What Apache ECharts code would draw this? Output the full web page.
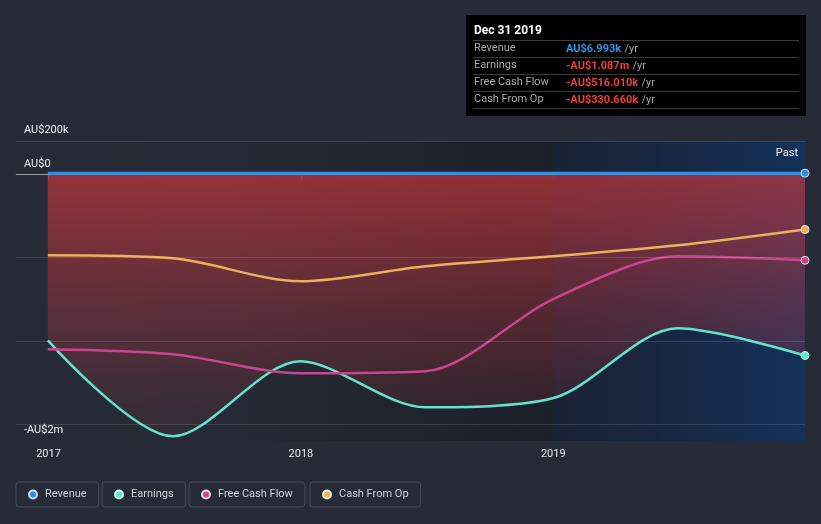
<!DOCTYPE html>
<html><head><meta charset="utf-8">
<script src="https://cdn.jsdelivr.net/npm/echarts@6/dist/echarts.min.js"></script>
<style>html,body{margin:0;padding:0;background:#262b37;}#c{width:821px;height:524px;}</style>
</head><body><div id="c"></div>
<script>
const dates = ['2016-12-31','2017-06-30','2017-12-31','2018-06-30','2018-12-31','2019-06-30','2019-12-31'];
const revenue = [6100, 6300, 7200, 6500, 6900, 7000, 6993];
const earnings = [-996000, -1572000, -1122000, -1398000, -1344000, -924000, -1087000];
const freeCashFlow = [-1050000, -1080000, -1194000, -1182000, -750000, -492000, -516010];
const cashFromOp = [-486000, -504000, -642000, -552000, -492000, -426000, -330660];
const yTicks = [{v: 200000, t: 'AU$200k', pos: 'insideStartTop', d: 5}, {v: 0, t: 'AU$0', pos: 'insideStartTop', d: 5}, {v: -500000, t: ''}, {v: -1000000, t: ''}, {v: -1500000, t: '-AU$2m', pos: 'insideStartBottom', d: 0}];
const names = ['Revenue', 'Earnings', 'Free Cash Flow', 'Cash From Op'];
const colors = ['#2d8fe3', '#62e3cd', '#c8468b', '#e8b15c'];
const pastStart = '2019-01-01';
const pastLabel = 'Past';
const xMin = '2016-11-15';
const xMax = '2019-12-31';

const seriesData = [revenue, earnings, freeCashFlow, cashFromOp];

function fmt(v) {
  const a = Math.abs(v);
  const s = v < 0 ? '-' : '';
  if (a >= 1e6) return s + 'AU$' + (a / 1e6).toFixed(3) + 'm';
  return s + 'AU$' + (a / 1e3).toFixed(3) + 'k';
}
function fmtDate(d) {
  const m = ['Jan','Feb','Mar','Apr','May','Jun','Jul','Aug','Sep','Oct','Nov','Dec'];
  const p = d.split('-');
  return m[+p[1] - 1] + ' ' + (+p[2]) + ' ' + p[0];
}
function toData(arr) {
  return arr.map((v, i) => i === arr.length - 1
    ? {value: [dates[i], v], symbol: 'circle', symbolSize: 8}
    : {value: [dates[i], v], symbol: 'none'});
}

const chart = echarts.init(document.getElementById('c'), null, {renderer: 'canvas'});

const SMOOTH = 0.3;
const series = [];
series.push({
  type: 'line', data: [], z: 1, silent: true,
  markArea: {
    silent: true,
    data: [
      [{xAxis: xMin, yAxis: 200000, label: {show: false}, itemStyle: {color: new echarts.graphic.LinearGradient(0, 0, 1, 0, [
          {offset: 0, color: 'rgba(0,0,0,0)'}, {offset: 0.4, color: 'rgba(0,0,0,0.02)'}, {offset: 1, color: 'rgba(8,10,14,0.32)'}])}},
       {xAxis: pastStart, yAxis: -1600000}],
      [{xAxis: pastStart, yAxis: 200000, name: pastLabel,
        label: {show: true, formatter: pastLabel, position: 'insideTopRight', color: '#f0f2f5', fontSize: 11, fontFamily: 'Roboto', distance: 7},
        itemStyle: {color: new echarts.graphic.LinearGradient(0, 0, 1, 0, [
          {offset: 0, color: 'rgba(12,24,50,0.45)'}, {offset: 1, color: 'rgba(14,52,104,0.72)'}])}},
       {xAxis: xMax, yAxis: -1600000}]
    ]
  },
  markLine: {
    silent: true, symbol: 'none', animation: false,
    data: yTicks.map(t => ({yAxis: t.v,
      label: {show: !!t.t, formatter: t.t, position: t.pos || 'insideStartTop', distance: [8, t.d || 0]},
      lineStyle: {color: t.v === 0 ? 'rgba(255,255,255,0.45)' : 'rgba(255,255,255,0.13)', width: 1, type: 'solid'}})),
    label: {color: '#eef0f3', fontSize: 11, fontFamily: 'Roboto'}
  }
});
series.push({
  name: names[1], type: 'line', z: 3, data: toData(earnings), smooth: SMOOTH,
  lineStyle: {color: colors[1], width: 2.5}, itemStyle: {color: colors[1], borderColor: '#cfe', borderWidth: 1},
  areaStyle: {origin: 0, color: new echarts.graphic.LinearGradient(0, 0, 0, 1, [
    {offset: 0, color: 'rgba(212,56,62,0.9)'}, {offset: 0.5, color: 'rgba(212,56,62,0.45)'}, {offset: 1, color: 'rgba(212,56,62,0.08)'}])}
});
series.push({
  name: names[2], type: 'line', z: 4, data: toData(freeCashFlow), smooth: SMOOTH,
  lineStyle: {color: colors[2], width: 2.5}, itemStyle: {color: colors[2], borderColor: '#edd', borderWidth: 1}
});
series.push({
  name: names[3], type: 'line', z: 4, data: toData(cashFromOp), smooth: SMOOTH,
  lineStyle: {color: colors[3], width: 2.5}, itemStyle: {color: colors[3], borderColor: '#eed', borderWidth: 1}
});
series.push({
  name: names[0], type: 'line', z: 5, data: toData(revenue), smooth: SMOOTH,
  lineStyle: {color: colors[0], width: 3}, itemStyle: {color: colors[0], borderColor: '#cde', borderWidth: 1}
});

const legendLefts = [16, 102, 189, 310];
const legends = names.map((n, i) => ({
  data: [{name: n, itemStyle: {color: colors[i]}}],
  left: legendLefts[i], top: 482, orient: 'horizontal',
  icon: 'circle', itemWidth: 8, itemHeight: 8,
  padding: [7, 12, 7, 12],
  borderColor: '#454d5b', borderWidth: 1, borderRadius: 3,
  textStyle: {color: '#cdd1d7', fontSize: 11, fontFamily: 'Roboto', padding: [0, 0, 0, 3]},
  selectedMode: false
}));

const last = dates.length - 1;
const rowY = [49, 66, 83, 100];
const graphics = [
  {type: 'rect', left: 466, top: 15, shape: {width: 340, height: 101}, style: {fill: '#000'}, z: 10},
  {type: 'text', left: 474, top: 25, style: {text: fmtDate(dates[last]), fill: '#fff', font: 'bold 12px Roboto'}, z: 11}
];
[40, 57, 74, 91, 108].forEach(y => graphics.push({type: 'line', shape: {x1: 473, y1: y + 0.5, x2: 799, y2: y + 0.5}, style: {stroke: '#3b3b3b', lineWidth: 1}, z: 11}));
names.forEach((n, i) => {
  const v = seriesData[i][last];
  graphics.push({type: 'text', left: 474, top: rowY[i] - 6, style: {text: n, fill: '#a9a9a9', font: '11px Roboto'}, z: 11});
  graphics.push({type: 'text', left: 566, top: rowY[i] - 6, style: {
    text: '{v|' + fmt(v) + '} {u|/yr}',
    rich: {v: {fill: v >= 0 ? '#2f95e6' : '#ee3e3e', font: 'bold 11px Roboto'}, u: {fill: '#a9a9a9', font: '11px Roboto'}}
  }, z: 11});
});

chart.setOption({
  backgroundColor: '#262b37',
  animation: false,
  grid: {left: 16, right: 16, top: 141, bottom: 83},
  xAxis: {
    type: 'time', min: xMin, max: xMax,
    minInterval: 365 * 86400000, maxInterval: 366 * 86400000,
    axisLine: {lineStyle: {color: '#4f5764'}},
    axisTick: {show: true, length: 5, lineStyle: {color: '#4f5764'}},
    axisLabel: {color: '#e6e8ec', fontSize: 11, fontFamily: 'Roboto', margin: 8, formatter: '{yyyy}', showMinLabel: false, showMaxLabel: false},
    splitLine: {show: false}
  },
  yAxis: {
    type: 'value', min: -1600000, max: 200000,
    axisLabel: {show: false}, axisLine: {show: false}, axisTick: {show: false}, splitLine: {show: false}
  },
  legend: legends,
  graphic: graphics,
  series: series
});
</script>
</body></html>
